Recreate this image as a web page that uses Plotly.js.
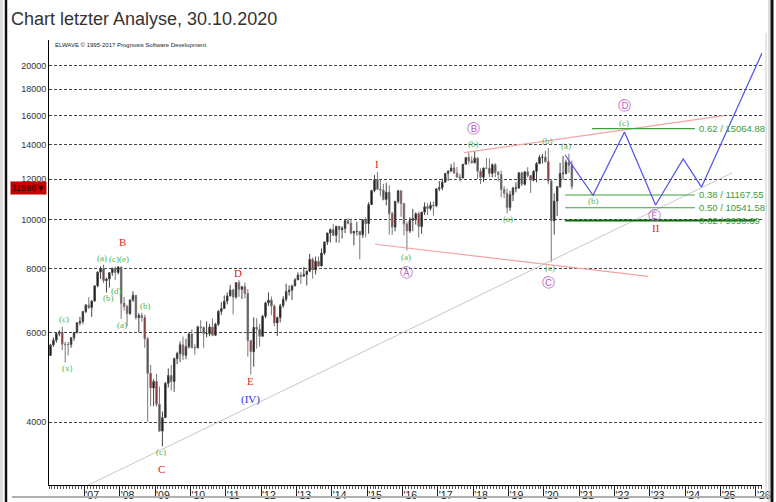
<!DOCTYPE html>
<html>
<head>
<meta charset="utf-8">
<script src="https://cdn.plot.ly/plotly-3.0.1.min.js"></script>
<style>
html,body{margin:0;padding:0;background:#fff;}
#chart{width:776px;height:502px;}
</style>
</head>
<body>
<div id="chart"></div>
<script>
// Monthly DAX candles, Jan 2006 .. Oct 2020
const firstYear = 2006;
const openV = [
5408,5674,5797,5970,6009,5692,5683,5682,5859,6004,6269,6309,
6597,6789,6715,6917,7409,7883,8007,7584,7638,7861,8020,7870,
8067,6851,6748,6535,6949,7096,6418,6479,6422,5831,4988,4669,
4810,4338,3844,4085,4769,4941,4809,5332,5458,5675,5415,5625,
5957,5608,5598,6154,6136,5964,5966,6148,5925,6229,6601,6688,
6914,7077,7272,7041,7514,7294,7376,7159,5785,5502,6141,6089,
5898,6458,6856,6947,6761,6264,6416,6772,6971,7216,7260,7406,
7612,7776,7742,7795,7914,8349,7959,8276,8103,8594,9033,9406,
9552,9306,9692,9556,9603,9943,9833,9407,9470,9474,9327,9980,
9806,10694,11402,11966,11454,11414,10945,11309,10259,9660,10850,11382,
10743,9798,9495,9966,10039,10263,9680,10337,10593,10511,10665,10640,
11481,11535,11834,12313,12438,12615,12325,12118,12056,12829,13229,13024,
12918,13189,12436,12097,12612,12605,12306,12806,12364,12247,11448,11257,
10559,11173,11516,11526,12344,11727,12399,12189,11939,12428,12867,13236,
13249,12982,11890,9936,10862,11587,12311,12313,12945,12761
];
const highV = [
5700,5870,6000,6070,6160,5750,5750,5880,6010,6280,6440,6600,
6830,7040,6940,7410,7900,8090,8151,7690,7870,8040,8080,8100,
8070,7050,6800,6970,7230,7100,6550,6560,6500,5880,5180,4860,
4980,4700,4200,4800,5100,5180,5360,5500,5760,5890,5830,6010,
6090,5690,6190,6340,6170,6310,6230,6390,6270,6640,6880,7090,
7190,7440,7310,7530,7600,7400,7520,7300,5790,6430,6400,6230,
6500,6900,7190,7060,6810,6450,6830,7070,7480,7420,7440,7670,
7870,7880,8070,7940,8560,8420,8450,8460,8770,9040,9410,9600,
9800,9720,9700,9700,10000,10050,10030,9500,9890,9500,10000,10100,
10810,11410,12220,12390,11950,11740,11800,11670,10350,10860,11430,11390,
10750,9900,10100,10490,10330,10360,10340,10800,10770,10830,10840,11485,
11890,12030,12315,12480,12840,12950,12670,12300,12830,13230,13530,13300,
13600,13250,12600,12640,13200,13170,12880,12890,12450,12460,11630,11500,
11380,11590,11820,12390,12400,12440,12660,12200,12490,12960,13370,13430,
13640,13800,12000,11250,11630,12910,13310,13100,13460,13050
];
const lowV = [
5400,5620,5730,5900,5540,5240,5410,5600,5780,5970,6200,6230,
6550,6670,6440,6900,7360,7640,7500,7190,7350,7750,7600,7800,
6380,6630,6170,6500,6890,6360,6000,6300,5600,4010,4300,4300,
4290,3830,3589,4080,4680,4620,4590,5200,5250,5300,5320,5580,
5580,5430,5590,6010,5600,5870,5900,5900,5920,6180,6500,6680,
6810,7070,6510,6990,7050,6980,7000,5380,4966,5140,5580,5630,
5890,6400,6760,6490,6170,5910,6280,6710,6900,7090,6950,7400,
7610,7470,7710,7420,7880,7650,7800,8070,8100,8520,8910,9010,
9270,9010,8990,9170,9400,9780,9350,8900,9300,8350,9200,9220,
9380,10670,11300,11450,11100,10900,10650,9340,9330,9480,10750,10120,
9310,8700,9400,9480,9770,9210,9370,10200,10200,10420,10170,10570,
11360,11400,11830,11900,12430,12320,12060,11870,12050,12820,12820,12880,
12870,12000,11730,11840,12560,12100,12100,12100,11870,11050,11010,10280,
10390,10860,11300,11480,11620,11650,12080,11270,11880,11820,12860,12880,
12940,11720,8256,9340,10150,11530,11970,12250,12340,11450
];
const closeV = [
5674,5797,5970,6009,5692,5683,5682,5859,6004,6269,6309,6597,
6789,6715,6917,7409,7883,8007,7584,7638,7861,8020,7870,8067,
6851,6748,6535,6949,7096,6418,6479,6422,5831,4988,4669,4810,
4338,3844,4085,4769,4941,4809,5332,5458,5675,5415,5625,5957,
5608,5598,6154,6136,5964,5966,6148,5925,6229,6601,6688,6914,
7077,7272,7041,7514,7294,7376,7159,5785,5502,6141,6089,5898,
6458,6856,6947,6761,6264,6416,6772,6971,7216,7260,7406,7612,
7776,7742,7795,7914,8349,7959,8276,8103,8594,9033,9406,9552,
9306,9692,9556,9603,9943,9833,9407,9470,9474,9327,9980,9806,
10694,11402,11966,11454,11414,10945,11309,10259,9660,10850,11382,10743,
9798,9495,9966,10039,10263,9680,10337,10593,10511,10665,10640,11481,
11535,11834,12313,12438,12615,12325,12118,12056,12829,13229,13024,12918,
13189,12436,12097,12612,12605,12306,12806,12364,12247,11448,11257,10559,
11173,11516,11526,12344,11727,12399,12189,11939,12428,12867,13236,13249,
12982,11890,9936,10862,11587,12311,12313,12945,12761,11598
];
const lastPriceLabel = "11598\u25BC";

// axis ticks
const yTicks = [4000,6000,8000,10000,12000,14000,16000,18000,20000];
const xTickYears = [2007,2008,2009,2010,2011,2012,2013,2014,2015,2016,2017,2018,2019,2020,2021,2022,2023,2024,2025,2026];
const xTickText = ["'07","'08","'09","'10","'11","'12","'13","'14","'15","'16","'17","'18","'19","'20","'21","'22","'23","'24","'25","'26"];

// Projection path (blue)
const projYear = [2020.60, 2021.39, 2022.28, 2023.16, 2023.94, 2024.46, 2026.17];
const projVal  = [13379, 11150, 14846, 10674, 13138, 11574, 21200];

// Trend lines
const grayLineYear = [2006.88, 2025.32];
const grayLineVal  = [2958, 12336];
const redUpperYear = [2017.74, 2025.09];
const redUpperVal  = [13518, 15977];
const redLowerYear = [2015.22, 2022.95];
const redLowerVal  = [8940, 7735];

// Fibonacci levels
const fibRatio = ["0.62","0.38","0.50","0.62"];
const fibValue = [15064.88, 11167.55, 10541.58, 9950.69];
const fibStart = [2021.36, 2020.60, 2020.60, 2020.60];
const fibEnd   = [2024.27, 2024.27, 2024.27, 2025.97];
const fibColor = ["#3ca03c","#3ca03c","#3ca03c","#0a6a0a"];
const fibWidth = [1.2, 1.2, 1.2, 2];
const fibLabelYear = 2024.33;

// Wave labels
const waveText = ["(c)","(x)","(a)","(c)(e)","(b)","(d)","(a)","B","(b)","(c)","C","D","E","(IV)","I","\u24B7","(b)","(a)","\u24B6","(a)","(b)","(a)","(c)","\u24B8","\u24B9","(c)","(b)","\u24BA","II"];
const waveYear = [2006.42,2006.51,2007.50,2007.99,2007.67,2007.92,2008.07,2008.07,2008.72,2009.17,2009.17,2011.35,2011.71,2011.71,2015.28,2018.02,2018.02,2016.10,2016.10,2018.98,2020.09,2020.63,2020.17,2020.14,2022.27,2022.27,2021.39,2023.14,2023.17];
const waveVal  = [6378,5111,8403,8364,7013,7240,6208,9031,6764,3498,3238,7851,4819,4442,12846,15049,14060,8442,7851,10018,14253,13932,8030,7505,16694,15463,10845,10202,9620];
const waveKind = ["g","g","g","g","g","g","g","r","g","g","r","r","r","b","r","p","g","g","p","g","g","g","g","p","p","g","g","p","r"];

const kindStyle = {
  g: {color:"#55b455", size:9, family:"Liberation Serif, Times New Roman, serif"},
  r: {color:"#e02828", size:11, family:"Liberation Serif, Times New Roman, serif"},
  b: {color:"#2b2bdd", size:11, family:"Liberation Serif, Times New Roman, serif"},
  p: {color:"#b45cc4", size:13, family:"DejaVu Sans, sans-serif"}
};

const xCandle = openV.map((_, i) => firstYear + (i + 0.5) / 12);

const traces = [];
traces.push({
  type: "scatter", mode: "lines", x: grayLineYear, y: grayLineVal,
  line: {color: "#c8c8c8", width: 1}, hoverinfo: "skip"
});
traces.push({
  type: "scatter", mode: "lines", x: redUpperYear, y: redUpperVal,
  line: {color: "#f5a3a3", width: 1.2}, hoverinfo: "skip"
});
traces.push({
  type: "scatter", mode: "lines", x: redLowerYear, y: redLowerVal,
  line: {color: "#f5a3a3", width: 1.2}, hoverinfo: "skip"
});
for (let i = 0; i < fibValue.length; i++) {
  traces.push({
    type: "scatter", mode: "lines",
    x: [fibStart[i], fibEnd[i]], y: [fibValue[i], fibValue[i]],
    line: {color: fibColor[i], width: fibWidth[i]}, hoverinfo: "skip"
  });
}
traces.push({
  type: "candlestick", x: xCandle, open: openV, high: highV, low: lowV, close: closeV,
  increasing: {line: {color: "#444444", width: 1}, fillcolor: "#000000"},
  decreasing: {line: {color: "#777777", width: 1}, fillcolor: "#a80000"},
  whiskerwidth: 0, hoverinfo: "skip"
});
traces.push({
  type: "scatter", mode: "lines", x: projYear, y: projVal,
  line: {color: "#5050ee", width: 1.2}, hoverinfo: "skip"
});

// pixel helpers for frame decorations (paper coordinates)
const L = 49, R = 762, T = 40, B = 485;
const px = v => (v - L) / (R - L);
const py = v => (B - v) / (B - T);

const annotations = [];
annotations.push({
  xref: "paper", yref: "paper", x: px(9), y: py(19), xanchor: "left", yanchor: "middle",
  text: "Chart letzter Analyse, 30.10.2020", showarrow: false,
  font: {family: "Liberation Sans, Arial", size: 18, color: "#333333"}
});
annotations.push({
  xref: "paper", yref: "paper", x: px(53), y: py(45), xanchor: "left", yanchor: "middle",
  text: "ELWAVE \u00A9 1995-2017 Prognosis Software Development", showarrow: false,
  font: {family: "Liberation Sans, Arial", size: 6, color: "#222"}
});
annotations.push({
  xref: "paper", yref: "paper", x: px(47), y: py(187.5), xanchor: "right", yanchor: "middle",
  text: lastPriceLabel, showarrow: false, bgcolor: "#c40000", borderpad: 1,
  font: {family: "Liberation Sans, Arial", size: 9, color: "#3a0000"}
});
for (let i = 0; i < waveText.length; i++) {
  annotations.push({
    xref: "x", yref: "y", x: waveYear[i], y: Math.log10(waveVal[i]),
    text: waveText[i], showarrow: false, xanchor: "center", yanchor: "middle",
    font: kindStyle[waveKind[i]]
  });
}
for (let i = 0; i < fibValue.length; i++) {
  annotations.push({
    xref: "x", yref: "y", x: fibLabelYear, y: Math.log10(fibValue[i]),
    text: fibRatio[i] + " / " + fibValue[i].toFixed(2), showarrow: false,
    xanchor: "left", yanchor: "middle",
    font: {family: "Liberation Sans, Arial", size: 9.5, color: "#3c9c3c"}
  });
}

const shapes = [
  {type: "line", xref: "paper", yref: "paper", x0: px(1.5), x1: px(1.5), y0: py(0), y1: py(502), line: {color: "#dddddd", width: 3}},
  {type: "line", xref: "paper", yref: "paper", x0: px(6), x1: px(6), y0: py(0), y1: py(502), line: {color: "#111111", width: 2.5}},
  {type: "line", xref: "paper", yref: "paper", x0: px(766), x1: px(766), y0: py(33), y1: py(497), line: {color: "#cccccc", width: 1}},
  {type: "line", xref: "paper", yref: "paper", x0: px(769), x1: px(769), y0: py(0), y1: py(502), line: {color: "#bbbbbb", width: 1}},
  {type: "line", xref: "paper", yref: "paper", x0: px(772), x1: px(772), y0: py(0), y1: py(502), line: {color: "#111111", width: 3}},
  {type: "line", xref: "paper", yref: "paper", x0: px(12), x1: px(768), y0: py(497), y1: py(497), line: {color: "#b0b0b0", width: 2}}
];

const layout = {
  width: 776, height: 502,
  margin: {l: L, r: 776 - R, t: T, b: 502 - B, pad: 0},
  paper_bgcolor: "#ffffff", plot_bgcolor: "#ffffff",
  showlegend: false, hovermode: false,
  font: {family: "Liberation Sans, Arial", size: 10, color: "#333"},
  xaxis: {
    type: "linear", range: [2006.0, 2026.17],
    tickvals: xTickYears, ticktext: xTickText,
    ticks: "outside", ticklen: 10, tickcolor: "#222", tickwidth: 1,
    ticklabelposition: "outside right",
    tickfont: {family: "Liberation Sans, Arial", size: 10.5, color: "#222"},
    minor: {dtick: 1/12, tick0: 2006, ticks: "outside", ticklen: 2.5, tickcolor: "#555", showgrid: false},
    showline: true, linecolor: "#000", linewidth: 1,
    showgrid: false, zeroline: false, fixedrange: true,
    rangeslider: {visible: false}
  },
  yaxis: {
    type: "log", range: [Math.log10(3013), Math.log10(22490)],
    tickvals: yTicks, ticktext: yTicks.map(String),
    ticks: "", ticklen: 0,
    tickfont: {family: "Liberation Sans, Arial", size: 9, color: "#333"},
    showline: true, linecolor: "#000", linewidth: 1,
    showgrid: true, gridcolor: "#444", gridwidth: 1, griddash: "3px,2px",
    zeroline: false, fixedrange: true
  },
  annotations: annotations,
  shapes: shapes
};

Plotly.newPlot("chart", traces, layout, {staticPlot: true, displayModeBar: false});
</script>
</body>
</html>
